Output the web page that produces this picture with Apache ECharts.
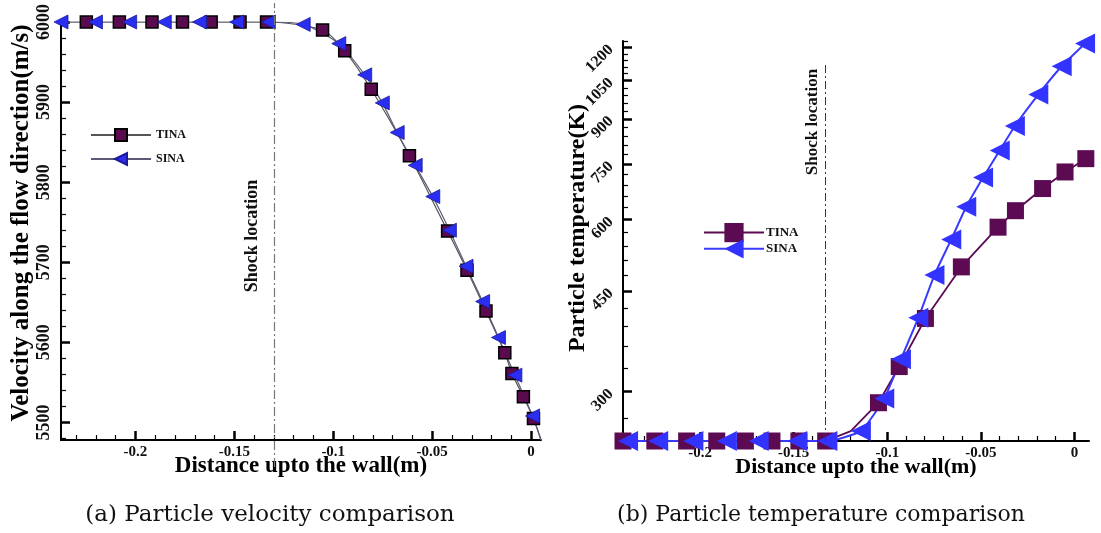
<!DOCTYPE html>
<html><head><meta charset="utf-8">
<script src="https://cdn.jsdelivr.net/npm/echarts@6/dist/echarts.min.js"></script>
<style>html,body{margin:0;padding:0;background:#fff}#c{width:1101px;height:533px}</style>
</head><body><div id="c"></div>
<script>
// ---------- data ----------
const shockX = -0.133;
const xMajorTicks = [-0.2, -0.15, -0.1, -0.05, 0];
const xMinorTicksA = [-0.23, -0.22, -0.21, -0.19, -0.18, -0.17, -0.16, -0.14, -0.13, -0.12, -0.11, -0.09, -0.08, -0.07, -0.06, -0.04, -0.03, -0.02, -0.01];
const xMinorTicksB = [-0.24, -0.23, -0.22, -0.21, -0.19, -0.18, -0.17, -0.16, -0.14, -0.13, -0.12, -0.11, -0.09, -0.08, -0.07, -0.06, -0.04, -0.03, -0.02, -0.01];
const velTicks = [5500, 5600, 5700, 5800, 5900, 6000];
const velMinorTicks = [5480, 5520, 5540, 5560, 5580, 5620, 5640, 5660, 5680, 5720, 5740, 5760, 5780, 5820, 5840, 5860, 5880, 5920, 5940, 5960, 5980];
const tempTicks = [300, 450, 600, 750, 900, 1050, 1200];
const tempMinorTicks = [270, 330, 360, 390, 420, 480, 510, 540, 570, 630, 660, 690, 720, 780, 810, 840, 870, 930, 960, 990, 1020, 1080, 1110, 1140, 1170, 1230];

// (a) velocity
const velTinaX = [-0.2376, -0.2248, -0.2081, -0.1916, -0.1762, -0.1617, -0.1471, -0.1337, -0.1054, -0.0942, -0.0808, -0.0615, -0.0422, -0.0324, -0.0228, -0.0133, -0.0097, -0.0039, 0.0012, 0.0050];
const velTinaY = [6000, 6000, 6000, 6000, 6000, 6000, 6000, 6000, 5990, 5964, 5916, 5833, 5739, 5690, 5639, 5587, 5561, 5532, 5505, 5478];
const velTinaMark = [0, 1, 1, 1, 1, 1, 1, 1, 1, 1, 1, 1, 1, 1, 1, 1, 1, 1, 1, 0];
const velSinaX = [-0.2376, -0.2202, -0.2029, -0.1854, -0.1676, -0.1488, -0.1328, -0.1152, -0.0972, -0.0841, -0.0752, -0.0677, -0.0586, -0.0497, -0.0413, -0.0329, -0.0245, -0.0165, -0.0082, 0.0007, 0.0050];
const velSinaY = [6000, 6000, 6000, 6000, 6000, 6000, 6000, 5997, 5973, 5934, 5899, 5862, 5821, 5782, 5740, 5695, 5651, 5606, 5559, 5508, 5478];
const velSinaMark = [1, 1, 1, 1, 1, 1, 1, 1, 1, 1, 1, 1, 1, 1, 1, 1, 1, 1, 1, 1, 0];

// (b) temperature
const tempTinaX = [-0.2412, -0.2242, -0.2072, -0.1911, -0.1758, -0.1616, -0.1472, -0.1329, -0.1195, -0.1047, -0.0936, -0.0796, -0.0604, -0.0408, -0.0315, -0.0170, -0.0050, 0.0061];
const tempTinaY = [246, 246, 246, 246, 246, 246, 246, 246, 256, 287, 332, 403, 496, 582, 622, 680, 727, 767];
const tempTinaMark = [1, 1, 1, 1, 1, 1, 1, 1, 0, 1, 1, 1, 1, 1, 1, 1, 1, 1];
const tempSinaX = [-0.2385, -0.2224, -0.2036, -0.1857, -0.1687, -0.1481, -0.1320, -0.1141, -0.1016, -0.0927, -0.0834, -0.0748, -0.0658, -0.0578, -0.0488, -0.0399, -0.0318, -0.0193, -0.0068, 0.0057];
const tempSinaY = [246, 246, 246, 246, 246, 246, 246, 256, 292, 342, 404, 480, 554, 632, 711, 793, 875, 993, 1113, 1220];
const tempSinaMark = [1, 1, 1, 1, 1, 1, 1, 1, 1, 1, 1, 1, 1, 1, 1, 1, 1, 1, 1, 1];

// ---------- helpers ----------
const serif = "'Liberation Serif','DejaVu Serif',serif";
function pts(xs, ys, marks) {
  return xs.map((x, i) => marks[i] ? [x, ys[i]] : { value: [x, ys[i]], symbol: 'none' });
}
const lbl = (size) => ({ fontFamily: serif, fontWeight: 'bold', fontSize: size, color: '#111' });
const nameStyle = (size, extra) => Object.assign({ fontFamily: serif, fontWeight: 'bold', fontSize: size, color: '#000' }, extra || {});
const hiddenAxis = (grid, min, max) => ({ gridIndex: grid, type: 'value', min, max, show: false });
const majorTick = (vals) => ({ show: true, inside: true, length: 9, customValues: vals, lineStyle: { color: '#000', width: 2.5 } });
const minorTick = (vals) => ({ show: true, inside: true, length: 5, customValues: vals, lineStyle: { color: '#000', width: 1.2 } });
const axLine = { show: true, onZero: false, lineStyle: { color: '#000', width: 2 } };
const noLine = { show: false, onZero: false };

const GA = { left: 61, top: 22, width: 480, height: 418 };
const GB = { left: 623, top: 41, width: 466, height: 400 };
const XA = [-0.2376, 0.005], XB = [-0.2412, 0.0078];
const YA = [5478, 6000], YB = [246, 1232];

const chart = echarts.init(document.getElementById('c'), null, { renderer: 'canvas' });
const option = {
  animation: false,
  backgroundColor: '#fff',
  grid: [
    GA, GB,
    Object.assign({}, GA), Object.assign({}, GB),
    { left: GA.left, top: 3, width: GA.width, height: 464 }
  ],
  xAxis: [
    { gridIndex: 0, type: 'value', min: XA[0], max: XA[1], axisLine: axLine,
      axisTick: majorTick(xMajorTicks),
      axisLabel: { customValues: xMajorTicks, margin: 5, formatter: v => String(v), ...lbl(15) },
      splitLine: { show: false },
      name: 'Distance upto the wall(m)', nameLocation: 'middle', nameGap: 15, nameMoveOverlap: false,
      nameTextStyle: nameStyle(23) },
    { gridIndex: 1, type: 'value', min: XB[0], max: XB[1], axisLine: axLine,
      axisTick: majorTick(xMajorTicks),
      axisLabel: { customValues: xMajorTicks, margin: 5, formatter: v => String(v), ...lbl(15) },
      splitLine: { show: false },
      name: 'Distance upto the wall(m)', nameLocation: 'middle', nameGap: 15, nameMoveOverlap: false,
      nameTextStyle: nameStyle(22) },
    { gridIndex: 2, type: 'value', min: XA[0], max: XA[1], axisLine: noLine,
      axisLabel: { show: false }, splitLine: { show: false }, axisTick: minorTick(xMinorTicksA) },
    { gridIndex: 3, type: 'value', min: XB[0], max: XB[1], axisLine: noLine,
      axisLabel: { show: false }, splitLine: { show: false }, axisTick: minorTick(xMinorTicksB) },
    hiddenAxis(4, XA[0], XA[1])
  ],
  yAxis: [
    { gridIndex: 0, type: 'value', min: YA[0], max: YA[1], axisLine: axLine,
      axisTick: majorTick(velTicks),
      axisLabel: { customValues: velTicks, rotate: 90, margin: 8, formatter: v => String(v), ...lbl(18) },
      splitLine: { show: false },
      name: 'Velocity along the flow direction(m/s)', nameLocation: 'middle', nameGap: 27, nameMoveOverlap: false,
      nameTextStyle: nameStyle(25, { padding: [0, 0, 0, 16] }) },
    { gridIndex: 1, type: 'log', logBase: 10, min: YB[0], max: YB[1], axisLine: axLine,
      axisTick: majorTick(tempTicks),
      axisLabel: { customValues: tempTicks, rotate: 45, margin: 12, formatter: v => String(Math.round(v)), ...lbl(16) },
      splitLine: { show: false }, minorTick: { show: false },
      name: 'Particle temperature(K)', nameLocation: 'middle', nameGap: 33, nameMoveOverlap: false,
      nameTextStyle: nameStyle(24, { padding: [0, 0, 0, 26] }) },
    { gridIndex: 2, type: 'value', min: YA[0], max: YA[1], axisLine: noLine,
      axisLabel: { show: false }, splitLine: { show: false }, axisTick: minorTick(velMinorTicks) },
    { gridIndex: 3, type: 'log', logBase: 10, min: YB[0], max: YB[1], axisLine: noLine,
      axisLabel: { show: false }, splitLine: { show: false }, minorTick: { show: false }, axisTick: minorTick(tempMinorTicks) },
    hiddenAxis(4, 0, 1)
  ],
  legend: [
    { left: 85, top: 123, orient: 'vertical', itemWidth: 60, itemHeight: 15, itemGap: 10,
      data: ['TINA', 'SINA'], selectedMode: false,
      textStyle: { fontFamily: serif, fontWeight: 'bold', fontSize: 12, color: '#111' } },
    { left: 698, top: 218, orient: 'vertical', itemWidth: 60, itemHeight: 24, itemGap: -3,
      data: ['TINA (b)', 'SINA (b)'], selectedMode: false, formatter: n => n.split(' ')[0],
      textStyle: { fontFamily: serif, fontWeight: 'bold', fontSize: 13, color: '#111', padding: [0, 0, 0, -3] } }
  ],
  series: [
    { name: 'shock-a', type: 'line', xAxisIndex: 4, yAxisIndex: 4, data: [], silent: true,
      markLine: { silent: true, symbol: 'none', label: { show: false },
        lineStyle: { color: '#777', width: 1.2, type: [9, 3, 2, 3] },
        data: [{ xAxis: shockX }] } },
    { name: 'TINA', type: 'line', xAxisIndex: 0, yAxisIndex: 0, smooth: 0.25,
      data: pts(velTinaX, velTinaY, velTinaMark),
      symbol: 'rect', symbolSize: 12,
      lineStyle: { color: '#555', width: 1.2 },
      itemStyle: { color: '#5a0a4e', borderColor: '#000', borderWidth: 1.5 } },
    { name: 'SINA', type: 'line', xAxisIndex: 0, yAxisIndex: 0, smooth: 0.25,
      data: pts(velSinaX, velSinaY, velSinaMark),
      symbol: 'triangle', symbolRotate: 90, symbolSize: 14,
      lineStyle: { color: '#5b5b78', width: 1.2 },
      itemStyle: { color: '#2a2ef0', borderColor: '#1a1a9a', borderWidth: 0.8 } },
    { name: 'TINA (b)', type: 'line', xAxisIndex: 1, yAxisIndex: 1,
      data: pts(tempTinaX, tempTinaY, tempTinaMark),
      symbol: 'rect', symbolSize: 17,
      lineStyle: { color: '#5c0a52', width: 1.8 },
      itemStyle: { color: '#5c0a52' } },
    { name: 'SINA (b)', type: 'line', xAxisIndex: 1, yAxisIndex: 1, smooth: 0.15,
      data: pts(tempSinaX, tempSinaY, tempSinaMark),
      symbol: 'triangle', symbolRotate: 90, symbolSize: 20,
      lineStyle: { color: '#3a3aff', width: 2 },
      itemStyle: { color: '#3333ff' },
      markLine: { silent: true, symbol: 'none', label: { show: false },
        lineStyle: { color: '#2d2d80', width: 1, type: [8, 3, 2, 3] },
        data: [[{ coord: [shockX, 246] }, { coord: [shockX, 1130] }]] } }
  ],
  graphic: [
    { type: 'text', x: 252, y: 236, rotation: Math.PI / 2,
      style: { text: 'Shock location', textAlign: 'center', textVerticalAlign: 'middle',
        font: "bold 18px 'Liberation Serif'", fill: '#111' } },
    { type: 'text', x: 813, y: 122, rotation: Math.PI / 2,
      style: { text: 'Shock location', textAlign: 'center', textVerticalAlign: 'middle',
        font: "bold 17px 'Liberation Serif'", fill: '#111' } },
    { type: 'text', x: 270, y: 515,
      style: { text: '(a) Particle velocity comparison', textAlign: 'center', textVerticalAlign: 'middle',
        font: "23px 'DejaVu Serif'", fill: '#111' } },
    { type: 'text', x: 821, y: 515,
      style: { text: '(b) Particle temperature comparison', textAlign: 'center', textVerticalAlign: 'middle',
        font: "22px 'DejaVu Serif'", fill: '#111' } }
  ]
};
chart.setOption(option);
</script>
</body></html>
